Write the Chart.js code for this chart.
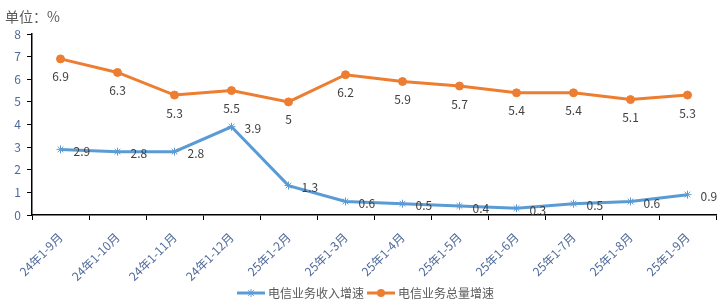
<!DOCTYPE html>
<html>
<head>
<meta charset="utf-8">
<script src="https://cdn.jsdelivr.net/npm/chart.js@4"></script>
<style>
  html, body { margin: 0; padding: 0; background: #fff; }
  #wrap { width: 728px; height: 308px; }
</style>
</head>
<body>
<div id="wrap"><canvas id="c" width="728" height="308"></canvas></div>
<script>
// 数据
const labels = ['24年1-9月','24年1-10月','24年1-11月','24年1-12月','25年1-2月','25年1-3月','25年1-4月','25年1-5月','25年1-6月','25年1-7月','25年1-8月','25年1-9月'];
const incomeGrowth = [2.9, 2.8, 2.8, 3.9, 1.3, 0.6, 0.5, 0.4, 0.3, 0.5, 0.6, 0.9];
const volumeGrowth = [6.9, 6.3, 5.3, 5.5, 5, 6.2, 5.9, 5.7, 5.4, 5.4, 5.1, 5.3];
const seriesNames = ['电信业务收入增速', '电信业务总量增速'];
const unitText = '单位：%';

const BLUE = '#5B9BD5';
const ORANGE = '#ED7D31';
const FONT = '"Noto Sans CJK SC", "Noto Sans", sans-serif';

// 数据标签 + 单位 + 图例
const extras = {
  id: 'extras',
  afterDatasetsDraw(chart) {
    const ctx = chart.ctx;
    ctx.save();
    ctx.font = '12px ' + FONT;
    ctx.fillStyle = '#404040';
    // 收入: 右侧
    chart.getDatasetMeta(0).data.forEach((p, i) => {
      ctx.textAlign = 'left';
      ctx.textBaseline = 'middle';
      ctx.fillText(String(incomeGrowth[i]), p.x + 13, p.y + 2);
    });
    // 总量: 下方
    chart.getDatasetMeta(1).data.forEach((p, i) => {
      ctx.textAlign = 'center';
      ctx.textBaseline = 'middle';
      ctx.fillText(String(volumeGrowth[i]), p.x, p.y + 18);
    });

    // 单位
    ctx.font = '14px ' + FONT;
    ctx.fillStyle = '#595959';
    ctx.textAlign = 'left';
    ctx.fillText(unitText, 5, 17);

    // 图例
    const ly = 293;
    const items = [
      {x: 237, color: BLUE, style: 'star', name: seriesNames[0]},
      {x: 367, color: ORANGE, style: 'circle', name: seriesNames[1]}
    ];
    items.forEach(it => {
      ctx.strokeStyle = it.color;
      ctx.fillStyle = it.color;
      ctx.lineWidth = 3;
      ctx.beginPath();
      ctx.moveTo(it.x, ly);
      ctx.lineTo(it.x + 28, ly);
      ctx.stroke();
      if (it.style === 'circle') {
        ctx.beginPath();
        ctx.arc(it.x + 14, ly, 4, 0, Math.PI * 2);
        ctx.fill();
      } else {
        ctx.lineWidth = 1;
        Chart.helpers.drawPoint(ctx, {pointStyle: 'star', radius: 4, borderWidth: 1, rotation: 0}, it.x + 14, ly);
      }
      ctx.fillStyle = '#595959';
      ctx.font = '12px ' + FONT;
      ctx.textAlign = 'left';
      ctx.textBaseline = 'middle';
      ctx.fillText(it.name, it.x + 31, ly);
    });
    ctx.restore();
  }
};

new Chart(document.getElementById('c'), {
  type: 'line',
  data: {
    labels: labels,
    datasets: [
      {
        label: seriesNames[0],
        data: incomeGrowth,
        borderColor: BLUE,
        backgroundColor: BLUE,
        borderWidth: 3,
        pointStyle: 'star',
        pointRadius: 4,
        pointBorderWidth: 1,
        pointBorderColor: BLUE,
        tension: 0
      },
      {
        label: seriesNames[1],
        data: volumeGrowth,
        borderColor: ORANGE,
        backgroundColor: ORANGE,
        borderWidth: 3,
        pointStyle: 'circle',
        pointRadius: 4,
        pointBorderWidth: 1,
        pointBorderColor: ORANGE,
        tension: 0
      }
    ]
  },
  options: {
    responsive: false,
    animation: false,
    layout: {padding: {top: 34, right: 12, bottom: 0, left: 0}},
    plugins: {legend: {display: false}, tooltip: {enabled: false}},
    scales: {
      x: {
        offset: true,
        grid: {display: true, drawOnChartArea: false, drawTicks: true, tickLength: 5, color: '#000', offset: true},
        border: {color: '#000', width: 1.5},
        ticks: {
          maxRotation: 45, minRotation: 45, autoSkip: false,
          color: '#4f6a9a', font: {family: FONT, size: 12}, padding: 10
        },
        afterFit(s) { s.height = 93; }
      },
      y: {
        min: 0, max: 8,
        grid: {display: true, drawOnChartArea: false, drawTicks: true, tickLength: 5, color: '#000'},
        border: {color: '#000', width: 1.5},
        ticks: {stepSize: 1, color: '#4f6a9a', font: {family: FONT, size: 12}, padding: 6},
        afterFit(s) { s.width = 32; }
      }
    }
  },
  plugins: [extras]
});
</script>
</body>
</html>
